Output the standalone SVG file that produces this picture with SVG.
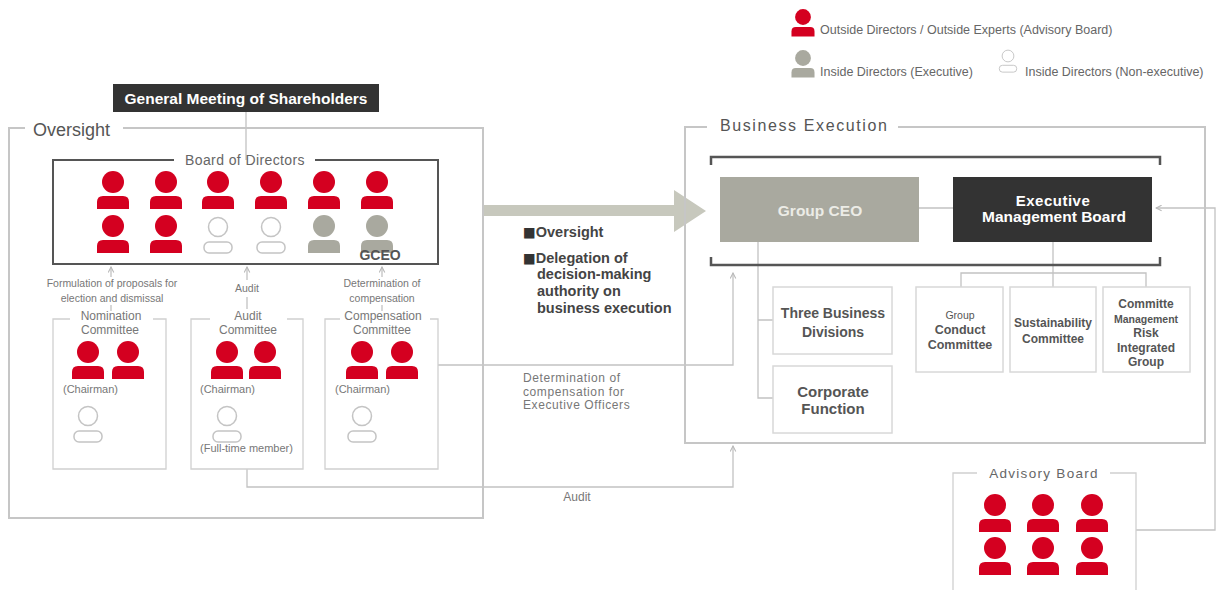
<svg xmlns="http://www.w3.org/2000/svg" xmlns:xlink="http://www.w3.org/1999/xlink" width="1231" height="590" viewBox="0 0 1231 590">
<style>
text { font-family: "Liberation Sans", Arial, sans-serif; }
.frame { fill: none; stroke: #c6c6c6; stroke-width: 2; }
.board { fill: none; stroke: #555; stroke-width: 2; }
.cbox { fill: none; stroke: #d0d0d0; stroke-width: 1.3; }
.sbox { fill: #fff; stroke: #d8d8d8; stroke-width: 1.5; }
.conn { fill: none; stroke: #c2c2c2; stroke-width: 1.3; }
.red { fill: #d40020; }
.gray { fill: #a9a99f; }
.outl { fill: #fff; stroke: #c4c4c4; stroke-width: 1.5; }
.leg { font-size: 12.5px; fill: #666; }
.small { font-size: 10.5px; fill: #777; text-anchor: middle; }
.clab { font-size: 12px; fill: #777; text-anchor: middle; }
.chair { font-size: 11px; fill: #777; }
.mid { font-size: 14.5px; font-weight: bold; fill: #444; }
.sq { font-family: "DejaVu Sans", sans-serif; font-size: 13.5px; fill: #333; }
.det { font-size: 12px; fill: #777; letter-spacing: 0.6px; }
.bx { font-weight: bold; fill: #555; text-anchor: middle; }
</style>
<defs>
<g id="person"><circle cx="0" cy="0" r="11"/><path d="M-16,27V20Q-16,14 -10,14H10Q16,14 16,20V27Z"/></g>
<g id="personO"><circle cx="0" cy="0" r="9.5"/><rect x="-14" y="15" width="28" height="11" rx="5"/></g>
<marker id="arr" viewBox="0 0 10 10" refX="9" refY="5" markerWidth="7" markerHeight="7" orient="auto" markerUnits="userSpaceOnUse">
<path d="M1,1L9,5L1,9" fill="none" stroke="#b8b8b8" stroke-width="1.5"/>
</marker>
</defs>

<g id="legend">
<use xlink:href="#person" class="red" transform="translate(803,17) scale(0.72)"/>
<text class="leg" x="820" y="34">Outside Directors / Outside Experts (Advisory Board)</text>
<use xlink:href="#person" class="gray" transform="translate(803,58) scale(0.72)"/>
<text class="leg" x="820" y="76">Inside Directors (Executive)</text>
<use xlink:href="#personO" class="outl" transform="translate(1008,56) scale(0.62)"/>
<text class="leg" x="1025" y="76">Inside Directors (Non-executive)</text>
</g>

<g id="connectors">
<line class="conn" x1="246" y1="112" x2="246" y2="160"/>
<path class="conn" d="M111,277V267" marker-end="url(#arr)"/>
<path class="conn" d="M111,305V311"/>
<path class="conn" d="M247,280V267" marker-end="url(#arr)"/>
<path class="conn" d="M247,297V309"/>
<path class="conn" d="M382,277V267" marker-end="url(#arr)"/>
<path class="conn" d="M382,305V311"/>
<path class="conn" d="M438,365H733V273" marker-end="url(#arr)"/>
<path class="conn" d="M247,469V487H733V446" marker-end="url(#arr)"/>
<path class="conn" d="M1136,530H1215V208H1156" marker-end="url(#arr)"/>
<path class="conn" d="M919,208H953"/>
<path class="conn" d="M758,242V398H773M758,320H773"/>
<path class="conn" d="M1053,242V287M961,287V273H1146V287"/>
<path d="M483,205H674V190L706,211L674,232V216H483Z" fill="#c7c8bd"/>
</g>

<g id="oversight">
<path class="frame" d="M25,128H9V518H483V128H123"/>
<text x="33" y="136" font-size="18" fill="#555">Oversight</text>
</g>

<g id="gms">
<rect x="113" y="84" width="266" height="28" fill="#333"/>
<text x="246" y="103.5" font-size="15.5" font-weight="bold" fill="#fff" text-anchor="middle">General Meeting of Shareholders</text>
</g>

<g id="board-of-directors">
<path class="board" d="M174,160H53V264H438V160H315"/>
<text x="245" y="165" font-size="14" fill="#666" text-anchor="middle" letter-spacing="0.4">Board of Directors</text>
<use xlink:href="#person" class="red" x="113" y="182"/>
<use xlink:href="#person" class="red" x="166" y="182"/>
<use xlink:href="#person" class="red" x="218" y="182"/>
<use xlink:href="#person" class="red" x="271" y="182"/>
<use xlink:href="#person" class="red" x="324" y="182"/>
<use xlink:href="#person" class="red" x="377" y="182"/>
<use xlink:href="#person" class="red" x="113" y="226"/>
<use xlink:href="#person" class="red" x="166" y="226"/>
<use xlink:href="#personO" class="outl" x="218" y="227"/>
<use xlink:href="#personO" class="outl" x="271" y="227"/>
<use xlink:href="#person" class="gray" x="324" y="226"/>
<use xlink:href="#person" class="gray" x="377" y="226"/>
<text x="380" y="260" font-size="14" font-weight="bold" fill="#555" text-anchor="middle">GCEO</text>
</g>

<g id="labels-oversight">
<text class="small" x="112" y="287">Formulation of proposals for</text>
<text class="small" x="112" y="302">election and dismissal</text>
<text class="small" x="247" y="292">Audit</text>
<text class="small" x="382" y="287">Determination of</text>
<text class="small" x="382" y="302">compensation</text>
</g>

<g id="nomination-committee">
<path class="cbox" d="M70,319H53V469H166V319H153"/>
<text class="clab" x="111" y="320">Nomination</text>
<text class="clab" x="110" y="334">Committee</text>
<use xlink:href="#person" class="red" x="88" y="352"/>
<use xlink:href="#person" class="red" x="128" y="352"/>
<text class="chair" x="63" y="393">(Chairman)</text>
<use xlink:href="#personO" class="outl" x="88" y="416"/>
</g>

<g id="audit-committee">
<path class="cbox" d="M210,319H191V469H303V319H287"/>
<text class="clab" x="248" y="320">Audit</text>
<text class="clab" x="248" y="334">Committee</text>
<use xlink:href="#person" class="red" x="227" y="352"/>
<use xlink:href="#person" class="red" x="265" y="352"/>
<text class="chair" x="200" y="393">(Chairman)</text>
<use xlink:href="#personO" class="outl" x="227" y="416"/>
<text class="chair" x="200" y="452">(Full-time member)</text>
</g>

<g id="compensation-committee">
<path class="cbox" d="M340,319H325V469H438V319H430"/>
<text class="clab" x="383" y="320">Compensation</text>
<text class="clab" x="382" y="334">Committee</text>
<use xlink:href="#person" class="red" x="362" y="352"/>
<use xlink:href="#person" class="red" x="402" y="352"/>
<text class="chair" x="335" y="393">(Chairman)</text>
<use xlink:href="#personO" class="outl" x="362" y="416"/>
</g>

<g id="middle-text">
<text class="mid" x="523" y="237"><tspan class="sq">■</tspan>Oversight</text>
<text class="mid" x="523" y="263"><tspan class="sq">■</tspan>Delegation of</text>
<text class="mid" x="537" y="279">decision-making</text>
<text class="mid" x="537" y="296">authority on</text>
<text class="mid" x="537" y="313">business execution</text>
<text class="det" x="523" y="382">Determination of</text>
<text class="det" x="523" y="396">compensation for</text>
<text class="det" x="523" y="409">Executive Officers</text>
<text x="577" y="501" font-size="12" fill="#777" text-anchor="middle">Audit</text>
</g>

<g id="business-execution">
<path class="frame" d="M707,127H685V443H1205V127H898"/>
<text x="720" y="131" font-size="16" fill="#555" letter-spacing="1.6">Business Execution</text>
<path d="M711,165V157H1160V165M711,257V265H1160V257" fill="none" stroke="#555" stroke-width="2.5"/>
</g>

<g id="group-ceo">
<rect x="720" y="177" width="199" height="65" fill="#a9a99f"/>
<text x="820" y="216" font-size="15.5" font-weight="bold" fill="#ecece6" text-anchor="middle">Group CEO</text>
</g>

<g id="executive-management-board">
<rect x="953" y="177" width="199" height="65" fill="#333"/>
<text x="1053" y="206" font-size="15" font-weight="bold" fill="#fff" text-anchor="middle" letter-spacing="0.5">Executive</text>
<text x="1054" y="222" font-size="15.5" font-weight="bold" fill="#fff" text-anchor="middle">Management Board</text>
</g>

<g id="three-business-divisions">
<rect class="sbox" x="773" y="287" width="119" height="67"/>
<text class="bx" x="833" y="318" font-size="14">Three Business</text>
<text class="bx" x="833" y="337" font-size="14">Divisions</text>
</g>

<g id="corporate-function">
<rect class="sbox" x="773" y="366" width="119" height="67"/>
<text class="bx" x="833" y="397" font-size="15">Corporate</text>
<text class="bx" x="833" y="414" font-size="15">Function</text>
</g>

<g id="group-conduct-committee">
<rect class="sbox" x="916" y="287" width="87" height="85"/>
<text x="960" y="319" font-size="10.5" fill="#555" text-anchor="middle">Group</text>
<text class="bx" x="960" y="334" font-size="12.5">Conduct</text>
<text class="bx" x="960" y="349" font-size="12.5">Committee</text>
</g>

<g id="sustainability-committee">
<rect class="sbox" x="1010" y="287" width="86" height="85"/>
<text class="bx" x="1053" y="327" font-size="12">Sustainability</text>
<text class="bx" x="1053" y="343" font-size="12">Committee</text>
</g>

<g id="risk-committee">
<rect class="sbox" x="1103" y="287" width="87" height="85"/>
<text class="bx" x="1146" y="308" font-size="12">Committe</text>
<text class="bx" x="1146" y="323" font-size="10.5">Management</text>
<text class="bx" x="1146" y="337" font-size="12">Risk</text>
<text class="bx" x="1146" y="352" font-size="12">Integrated</text>
<text class="bx" x="1146" y="366" font-size="12">Group</text>
</g>

<g id="advisory-board">
<path class="cbox" d="M977,473H953V596M1136,596V473H1110"/>
<text x="1044" y="478" font-size="13.5" fill="#666" text-anchor="middle" letter-spacing="1.3">Advisory Board</text>
<use xlink:href="#person" class="red" x="995" y="505"/>
<use xlink:href="#person" class="red" x="1043" y="505"/>
<use xlink:href="#person" class="red" x="1092" y="505"/>
<use xlink:href="#person" class="red" x="995" y="548"/>
<use xlink:href="#person" class="red" x="1043" y="548"/>
<use xlink:href="#person" class="red" x="1092" y="548"/>
</g>
</svg>
